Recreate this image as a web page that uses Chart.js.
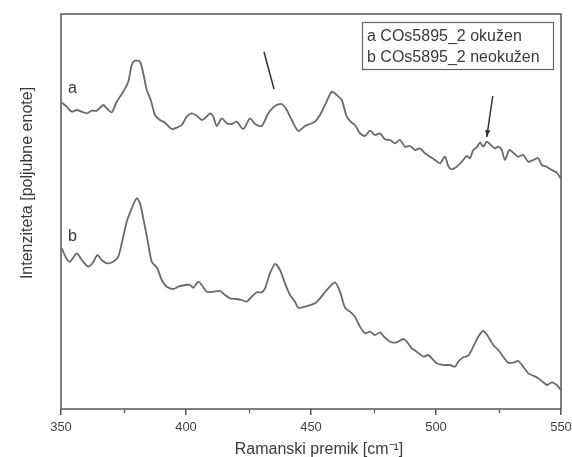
<!DOCTYPE html>
<html>
<head>
<meta charset="utf-8">
<script src="https://cdn.jsdelivr.net/npm/chart.js@4/dist/chart.umd.min.js"></script>
<style>
  html, body { margin: 0; padding: 0; background: #fff; }
  #c { display: block; }
</style>
</head>
<body>
<canvas id="c" width="572" height="457"></canvas>
<script>
// Raman shift (cm^-1) and intensity (arbitrary units) for sample a
const shiftA = [350.3,352.3,354.3,356.3,358.3,360.3,362.3,364.3,366.9,368.3,
  370.3,372.3,374.9,376.9,378.3,379.6,381.6,382.9,384.3,385.9,
  387.6,389.6,391.6,394.3,396.3,398.3,400.3,402.3,404.3,406.3,
  407.6,409.6,410.9,412.3,414.3,416.3,418.3,420.3,422.9,425.6,
  427.6,430.3,432.9,435.6,438.3,440.3,442.3,444.9,447.6,449.6,
  451.6,453.6,455.6,458.3,460.3,462.3,464.3,466.3,467.6,469.6,
  471.6,473.6,475.6,477.6,479.6,481.6,483.6,485.6,487.6,489.6,
  491.6,493.6,495.6,497.6,499.6,501.6,503.6,504.9,506.3,508.3,
  510.3,512.3,513.6,514.9,516.3,517.6,518.9,520.3,521.6,523.6,
  524.9,526.3,527.6,529.3,530.9,532.9,534.9,536.9,538.9,540.9,
  542.3,544.3,546.3,548.3,549.9];
const intensityA = [306.3,302.3,297.3,299,297.3,295.7,298.3,298.3,304,300.7,
  296.7,307.3,317.3,327.3,344,348.3,347.3,335.7,319,309,
  294,289,286.3,280,281.3,284,292.3,295.7,293.3,289,
  290.7,295.7,292.3,283,290.7,285.7,285,287.3,280,290.7,
  285,283,295.7,303,305,299,289,278,283,285,
  287.3,294,304,317.3,314,309,292.3,286.3,284,275.7,
  273,278.3,274,275.7,269.7,269,265.7,269,262.3,263,
  259,260.7,255.7,252.3,249,245.7,252.3,243,239.7,242.3,
  247.3,253,250.7,259,261.7,266.3,262.3,267.3,264.7,260.7,
  262.3,259,249,259,256.3,252.3,254,247.3,249,250.7,
  244,242.3,239,236.3,230.7];

// Raman shift (cm^-1) and intensity (arbitrary units) for sample b
const shiftB = [350.3,352,353.6,356.3,358.3,360.9,362.9,364.5,366.3,368.3,
  370.9,372.9,374.3,376.3,378.3,380.3,381.6,382.9,384.5,386.3,
  388.5,390.3,392.3,394.9,396.9,399.6,401.6,402.9,404.9,406.3,
  408.3,410.9,413.6,415.6,417.6,420.3,422.3,424.3,426.3,428.3,
  430.3,431.6,433.6,435.6,437.6,439.6,441.6,443.6,444.9,447.6,
  449.6,451.6,453.6,456.3,459.6,461.6,463.6,465.6,467.6,469.6,
  471.6,473.6,475.6,477.6,479.2,481.6,484.3,486.9,488.3,490.3,
  492.3,494.9,496.9,498.3,500.3,502.9,505.6,507.6,508.9,510.9,
  512.9,514.9,516.9,518.9,520.9,522.9,524.9,526.9,528.9,530.9,
  532.9,534.9,536.9,538.9,540.9,542.9,544.5,546.3,548.3,549.9];
const intensityB = [160.7,151.3,147.3,155.7,149,142.3,146.7,154,149,145.7,
  147.3,152.3,165.7,187.3,200.7,210.7,205.7,190.7,170.7,147.3,
  140.7,129,122.3,120,122.3,124,124,121.3,127.3,124,
  117.3,117.3,118,114,110.7,110,109,107.3,112.3,116.7,
  116.7,120.7,135.7,145,139,125.7,114,107.3,101.3,102.3,
  103.8,105.7,110.7,119,126.7,117.3,101.3,97.3,92.3,82.3,
  75.7,77.3,74,76.7,72.3,67.3,66.7,70,67.3,60.7,
  57.3,52.3,54,50.7,45.7,44,44,42.3,47.3,51.7,
  53.3,62.3,72.3,78,72.3,64,59,52.3,46.3,46.3,
  48,42.3,35.7,33.3,30.7,26.7,24,26.7,24,19];

const seriesTags = ['a', 'b'];
const seriesNames = ['COs5895_2 okužen', 'COs5895_2 neokužen'];
const xTickValues = [350, 400, 450, 500, 550];
const xMinorTicks = [375, 425, 475, 525];

// Curve letters placed next to the start of each spectrum (data units)
const tagX = [352.8, 352.8];
const tagY = [316, 168];

// Arrows marking bands of interest on spectrum a (data units)
const arrowTipX = [435.2, 520.3];
const arrowTipY = [320, 272];
const arrowTailX = [431.2, 522.7];
const arrowTailY = [357, 313];
const arrowHead = [false, true];

const FONT = '"Liberation Sans", Arial, Helvetica, sans-serif';
const FRAME = '#555555';
const INK = '#3a3a3a';
const CURVE = '#6a6a6a';

const toPoints = (xs, ys) => xs.map((x, i) => ({ x: x, y: ys[i] }));

const decorations = {
  id: 'decorations',
  afterDraw(chart) {
    const { ctx, chartArea: a, scales } = chart;
    const x = scales.x, y = scales.y;
    ctx.save();

    // plot frame
    ctx.strokeStyle = FRAME;
    ctx.lineWidth = 1.5;
    ctx.strokeRect(a.left, a.top, a.right - a.left, a.bottom - a.top);

    // minor ticks on the x axis
    ctx.lineWidth = 1.2;
    xMinorTicks.forEach(v => {
      const px = Math.round(x.getPixelForValue(v)) + 0.5;
      ctx.beginPath();
      ctx.moveTo(px, a.bottom);
      ctx.lineTo(px, a.bottom + 4);
      ctx.stroke();
    });

    // axis titles
    ctx.fillStyle = INK;
    ctx.font = '16px ' + FONT;
    ctx.textAlign = 'center';
    ctx.textBaseline = 'alphabetic';
    ctx.fillText('Ramanski premik [cm\u207B\u00B9]', a.left + 258, a.bottom + 45);

    ctx.save();
    ctx.translate(a.left - 29, a.top + 169);
    ctx.rotate(-Math.PI / 2);
    ctx.fillText('Intenziteta [poljubne enote]', 0, 0);
    ctx.restore();

    // curve letters
    ctx.textAlign = 'left';
    seriesTags.forEach((t, i) => {
      ctx.fillText(t, x.getPixelForValue(tagX[i]), y.getPixelForValue(tagY[i]));
    });

    // arrows
    ctx.strokeStyle = '#333';
    ctx.fillStyle = '#333';
    ctx.lineWidth = 1.5;
    arrowTipX.forEach((tx, i) => {
      const x1 = x.getPixelForValue(arrowTailX[i]), y1 = y.getPixelForValue(arrowTailY[i]);
      const x2 = x.getPixelForValue(tx), y2 = y.getPixelForValue(arrowTipY[i]);
      ctx.beginPath();
      ctx.moveTo(x1, y1);
      ctx.lineTo(x2, y2);
      ctx.stroke();
      if (arrowHead[i]) {
        const ang = Math.atan2(y2 - y1, x2 - x1);
        const len = 7, half = 2.6;
        ctx.beginPath();
        ctx.moveTo(x2, y2);
        ctx.lineTo(x2 - len * Math.cos(ang) + half * Math.sin(ang), y2 - len * Math.sin(ang) - half * Math.cos(ang));
        ctx.lineTo(x2 - len * Math.cos(ang) - half * Math.sin(ang), y2 - len * Math.sin(ang) + half * Math.cos(ang));
        ctx.closePath();
        ctx.fill();
      }
    });

    // legend box
    const bx = a.right - 199, by = a.top + 8, bw = 191, bh = 47;
    ctx.strokeStyle = '#666';
    ctx.lineWidth = 1.2;
    ctx.strokeRect(bx + 0.5, by + 0.5, bw, bh);
    ctx.fillStyle = INK;
    ctx.font = '16px ' + FONT;
    ctx.textAlign = 'left';
    chart.data.datasets.forEach((ds, i) => {
      ctx.fillText(seriesTags[i] + ' ' + ds.label, bx + 5, by + 19 + i * 20.5);
    });

    ctx.restore();
  }
};

new Chart(document.getElementById('c'), {
  type: 'line',
  data: {
    datasets: [
      { label: seriesNames[0], data: toPoints(shiftA, intensityA) },
      { label: seriesNames[1], data: toPoints(shiftB, intensityB) }
    ]
  },
  options: {
    responsive: false,
    animation: false,
    devicePixelRatio: 1,
    layout: { padding: { top: 14, right: 11, left: 0, bottom: 0 } },
    plugins: { legend: { display: false }, tooltip: { enabled: false } },
    elements: {
      point: { radius: 0 },
      line: { tension: 0.25, borderWidth: 1.8, borderColor: CURVE, fill: false }
    },
    scales: {
      x: {
        type: 'linear',
        min: 350,
        max: 550,
        afterFit: s => { s.height = 48; s.paddingLeft = 0; s.paddingRight = 0; },
        afterBuildTicks: s => { s.ticks = xTickValues.map(v => ({ value: v })); },
        ticks: { font: { family: FONT, size: 13 }, color: '#444', padding: 5, maxRotation: 0, autoSkip: false },
        grid: { drawOnChartArea: false, drawTicks: true, tickLength: 6, color: FRAME, lineWidth: 1.5 },
        border: { display: false }
      },
      y: {
        min: 0,
        max: 395,
        afterFit: s => { s.width = 61; },
        ticks: { display: false },
        grid: { display: false },
        border: { display: false }
      }
    }
  },
  plugins: [decorations]
});
</script>
</body>
</html>
